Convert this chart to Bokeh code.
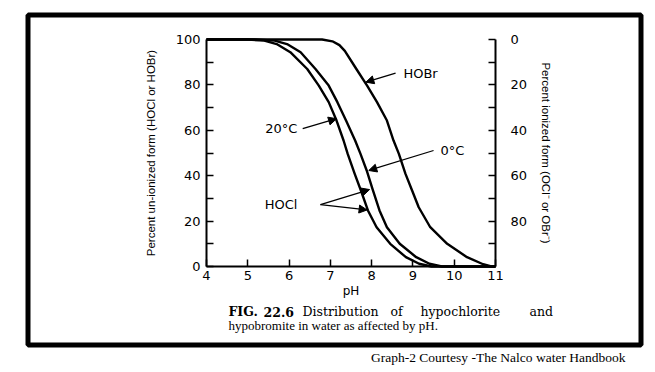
from bokeh.plotting import figure
from bokeh.models import Range1d, LinearAxis, FixedTicker, Arrow, NormalHead, Label, BoxAnnotation
from bokeh.embed import file_html
from bokeh.resources import INLINE

# ---- data ----
ph_hocl_20 = [4.0, 5.0, 5.4, 5.7, 6.03, 6.44, 6.72, 6.96, 7.15, 7.32, 7.42, 7.59, 7.74, 7.91, 8.12, 8.45, 8.83, 9.15, 9.45, 11.0]
pct_hocl_20 = [100, 100, 99.5, 98, 94.4, 87, 79.7, 72.4, 64.3, 55.5, 49.6, 40.8, 33.5, 24.7, 17.3, 10, 4.1, 1.2, 0, 0]

ph_hocl_0 = [4.0, 5.2, 5.65, 5.95, 6.28, 6.64, 6.96, 7.17, 7.38, 7.60, 7.73, 7.88, 8.02, 8.19, 8.37, 8.68, 9.08, 9.40, 9.70, 11.0]
pct_hocl_0 = [100, 100, 99.5, 98, 94.4, 87, 79.7, 72.4, 64.3, 55.5, 49.6, 42.3, 34.2, 24.7, 17.3, 10, 4.1, 1.2, 0, 0]

ph_hobr = [4.0, 6.8, 7.05, 7.22, 7.35, 7.63, 7.89, 8.13, 8.37, 8.53, 8.66, 8.82, 8.98, 9.14, 9.42, 9.83, 10.31, 10.7, 10.9, 11.0]
pct_hobr = [100, 100, 99.2, 97.5, 95, 87, 79.7, 72.4, 64.3, 55.5, 49.6, 40.8, 33.5, 26.1, 17.3, 10, 4.1, 1, 0, 0]

x_ticks = [4, 5, 6, 7, 8, 9, 10, 11]
left_ticks = [0, 20, 40, 60, 80, 100]
left_minor = [10, 30, 50, 70, 90]
right_ticks = [0, 20, 40, 60, 80]
right_minor = [10, 30, 50, 70, 90]

TICK_FONT = "DejaVu Sans"
LABEL_FONT = "Liberation Sans"
SERIF = "Liberation Serif"
WIDE_SERIF = "DejaVu Serif"

# ---- layout: the frame fills the whole canvas; axes are pinned inside it ----
W, H = 655, 372
X0_PX, X1_PX, Y100_PX, Y0_PX = 206, 495, 39, 266
kx = (X1_PX - X0_PX) / (11 - 4)      # px per pH unit
ky = (Y0_PX - Y100_PX) / 100.0       # px per percent

def dx(px):
    return 4 + (px - X0_PX) / kx

def dy(py):
    return (Y0_PX - py) / ky

p = figure(width=W, height=H, output_backend="svg", toolbar_location=None,
           x_range=Range1d(dx(0), dx(W)), y_range=Range1d(dy(H), dy(0)),
           x_axis_type=None, y_axis_type=None,
           min_border=0, min_border_left=0, min_border_right=0, min_border_top=0, min_border_bottom=0)
p.outline_line_color = None
p.background_fill_color = "white"
p.border_fill_color = "white"
p.extra_y_ranges = {"ion": Range1d(100 - dy(H), 100 - dy(0))}

def style_axis(ax, ticks, minor, standoff, lab_standoff):
    ax.ticker = FixedTicker(ticks=ticks, minor_ticks=minor)
    ax.axis_line_width = 2
    ax.axis_line_color = "black"
    ax.major_tick_in = 7
    ax.major_tick_out = 0
    ax.minor_tick_in = 7
    ax.minor_tick_out = 0
    ax.major_tick_line_width = 1.5
    ax.minor_tick_line_width = 1.5
    ax.major_label_text_font = TICK_FONT
    ax.major_label_text_font_size = "13px"
    ax.major_label_text_color = "black"
    ax.major_label_standoff = standoff
    ax.axis_label_text_font_style = "normal"
    ax.axis_label_text_color = "black"
    ax.axis_label_standoff = lab_standoff

xa = LinearAxis(fixed_location=0, bounds=(4, 11))
style_axis(xa, x_ticks, [], 4, 1)
xa.axis_label = "pH"
xa.axis_label_text_font = TICK_FONT
xa.axis_label_text_font_size = "12px"
p.add_layout(xa, "below")

ya = LinearAxis(fixed_location=4, bounds=(0, 100))
style_axis(ya, left_ticks, left_minor, 6, 16)
ya.axis_label = "Percent un-ionized form (HOCl or HOBr)"
ya.axis_label_text_font = LABEL_FONT
ya.axis_label_text_font_size = "11.5px"
p.add_layout(ya, "left")

ra = LinearAxis(y_range_name="ion", fixed_location=11, bounds=(0, 100))
style_axis(ra, right_ticks, right_minor, 15, 10)
ra.axis_label = "Percent ionized form (OCl\u207b or OBr\u207b)"
ra.axis_label_text_font = LABEL_FONT
ra.axis_label_text_font_size = "11.5px"
ra.axis_label_orientation = "vertical"
p.add_layout(ra, "right")

for xs, ys in [(ph_hocl_20, pct_hocl_20), (ph_hocl_0, pct_hocl_0), (ph_hobr, pct_hobr)]:
    p.line(xs, ys, line_color="black", line_width=2.4, line_join="round")

# ---- annotations (pointer arrows and labels) ----
def pointer(xs, ys, xe, ye):
    p.add_layout(Arrow(end=NormalHead(size=8, fill_color="black", line_color="black", line_width=1),
                       x_start=xs, y_start=ys, x_end=xe, y_end=ye,
                       line_color="black", line_width=1.3))

def note(x, y, text, align="left"):
    p.add_layout(Label(x=x, y=y, text=text, text_font=TICK_FONT, text_font_size="13px",
                       text_align=align, text_baseline="middle", text_color="black"))

pointer(8.58, 85.2, 7.86, 81.2)
note(8.77, 85.0, "HOBr")
pointer(6.33, 60.7, 7.15, 65.1)
note(6.20, 60.8, "20\u00b0C", "right")
pointer(9.50, 51.1, 7.93, 42.3)
note(9.67, 51.1, "0\u00b0C")
pointer(6.76, 27.3, 7.95, 33.9)
pointer(6.76, 27.3, 7.89, 24.9)
note(6.20, 27.5, "HOCl", "right")

# ---- caption, credit and outer frame ----
def tlabel(px, py, text, size, style="normal", align="left", font=SERIF):
    p.add_layout(Label(x=dx(px), y=dy(py), text=text,
                       text_font=font, text_font_size=size, text_font_style=style,
                       text_align=align, text_baseline="middle", text_color="black"))

cap1 = [(228, "FIG.", "bold"), (263, "22.6", "bold"), (302, "Distribution", "normal"),
        (390, "of", "normal"), (420, "hypochlorite", "normal"), (529, "and", "normal")]
for x, t, st in cap1:
    tlabel(x, 311, t, "12.5px", st, font=WIDE_SERIF)
tlabel(228, 325, "hypobromite in water as affected by pH.", "13px")
tlabel(625, 357, "Graph-2 Courtesy -The Nalco water Handbook", "13.5px", align="right")

p.add_layout(BoxAnnotation(left=dx(27.5), right=dx(640.5), top=dy(14.5), bottom=dy(344.5),
                           fill_alpha=0, line_color="black", line_width=5, line_alpha=1))

open("out.html", "w").write(file_html(p, INLINE))
